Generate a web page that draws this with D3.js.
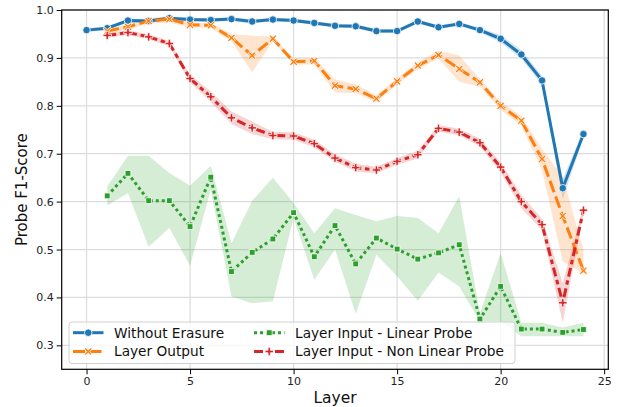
<!DOCTYPE html>
<html>
<head>
<meta charset="utf-8">
<script src="https://cdn.jsdelivr.net/npm/d3@7"></script>
<style>
  body { margin: 0; background: #fff; }
  svg { display: block; font-family: "DejaVu Sans", sans-serif; }
</style>
</head>
<body>
<svg id="chart" width="617" height="407"></svg>
<script>
// layers
const layersFull = [0, 1, 2, 3, 4, 5, 6, 7, 8, 9, 10, 11, 12, 13, 14, 15, 16, 17, 18, 19, 20, 21, 22, 23, 24];
const layersProbe = [1, 2, 3, 4, 5, 6, 7, 8, 9, 10, 11, 12, 13, 14, 15, 16, 17, 18, 19, 20, 21, 22, 23, 24];

// Without Erasure
const baseMean = [0.958, 0.962, 0.978, 0.977, 0.983, 0.980, 0.979, 0.981, 0.976, 0.980, 0.978, 0.973, 0.967, 0.966, 0.956, 0.956, 0.976, 0.964, 0.971, 0.958, 0.940, 0.907, 0.853, 0.628, 0.741];
const baseLo   = [0.954, 0.958, 0.974, 0.973, 0.979, 0.976, 0.975, 0.977, 0.972, 0.976, 0.974, 0.969, 0.963, 0.962, 0.952, 0.952, 0.972, 0.960, 0.967, 0.953, 0.932, 0.898, 0.843, 0.605, 0.733];
const baseHi   = [0.962, 0.966, 0.982, 0.981, 0.987, 0.984, 0.983, 0.985, 0.980, 0.984, 0.982, 0.977, 0.971, 0.970, 0.960, 0.960, 0.980, 0.968, 0.975, 0.963, 0.948, 0.916, 0.863, 0.648, 0.749];

// Layer Output
const outMean = [0.956, 0.965, 0.977, 0.981, 0.969, 0.968, 0.942, 0.905, 0.940, 0.892, 0.894, 0.842, 0.835, 0.815, 0.851, 0.884, 0.906, 0.877, 0.849, 0.800, 0.769, 0.689, 0.570, 0.456];
const outLo   = [0.951, 0.960, 0.972, 0.974, 0.964, 0.963, 0.934, 0.870, 0.935, 0.886, 0.886, 0.828, 0.826, 0.808, 0.844, 0.877, 0.898, 0.850, 0.840, 0.792, 0.759, 0.665, 0.475, 0.450];
const outHi   = [0.961, 0.970, 0.982, 0.988, 0.974, 0.973, 0.950, 0.946, 0.945, 0.898, 0.900, 0.855, 0.845, 0.822, 0.858, 0.891, 0.915, 0.905, 0.856, 0.808, 0.779, 0.710, 0.652, 0.500];

// Layer Input - Linear Probe
const linMean = [0.612, 0.659, 0.602, 0.602, 0.548, 0.651, 0.454, 0.494, 0.522, 0.577, 0.485, 0.550, 0.470, 0.524, 0.501, 0.480, 0.493, 0.510, 0.355, 0.423, 0.334, 0.334, 0.327, 0.333];
const linLo   = [0.592, 0.618, 0.506, 0.545, 0.466, 0.625, 0.402, 0.388, 0.392, 0.566, 0.437, 0.500, 0.366, 0.489, 0.444, 0.393, 0.452, 0.423, 0.350, 0.350, 0.319, 0.319, 0.319, 0.319];
const linHi   = [0.632, 0.696, 0.696, 0.660, 0.633, 0.675, 0.513, 0.602, 0.650, 0.597, 0.534, 0.586, 0.572, 0.559, 0.570, 0.566, 0.534, 0.611, 0.367, 0.493, 0.347, 0.347, 0.337, 0.347];

// Layer Input - Non Linear Probe
const mlpMean = [0.947, 0.953, 0.944, 0.930, 0.857, 0.819, 0.775, 0.754, 0.738, 0.737, 0.721, 0.691, 0.671, 0.666, 0.684, 0.698, 0.753, 0.745, 0.723, 0.672, 0.600, 0.552, 0.389, 0.582];
const mlpLo   = [0.942, 0.948, 0.939, 0.924, 0.849, 0.808, 0.762, 0.741, 0.730, 0.729, 0.713, 0.683, 0.663, 0.659, 0.677, 0.690, 0.746, 0.738, 0.715, 0.662, 0.586, 0.540, 0.347, 0.574];
const mlpHi   = [0.952, 0.958, 0.949, 0.936, 0.865, 0.830, 0.788, 0.767, 0.746, 0.745, 0.729, 0.699, 0.679, 0.673, 0.691, 0.706, 0.760, 0.752, 0.731, 0.682, 0.614, 0.564, 0.430, 0.590];

const xTicks = [0, 5, 10, 15, 20, 25];
const yTicks = [0.3, 0.4, 0.5, 0.6, 0.7, 0.8, 0.9, 1.0];

const series = [
  { name: "Without Erasure", color: "#1f77b4", dash: null, marker: "circle", xs: layersFull, mean: baseMean, lo: baseLo, hi: baseHi },
  { name: "Layer Output", color: "#ff7f0e", dash: "12,4.5", marker: "x", xs: layersProbe, mean: outMean, lo: outLo, hi: outHi },
  { name: "Layer Input - Linear Probe", color: "#2ca02c", dash: "3,3", marker: "square", xs: layersProbe, mean: linMean, lo: linLo, hi: linHi },
  { name: "Layer Input - Non Linear Probe", color: "#d62728", dash: "9,3.75,4.5,3.75", marker: "plus", xs: layersProbe, mean: mlpMean, lo: mlpLo, hi: mlpHi }
];

const plotLeft = 61.7, plotRight = 608.3, plotTop = 10, plotBottom = 369.3;

const svg = d3.select("#chart");

const x = d3.scaleLinear().domain([-1.2, 25.2]).range([plotLeft, plotRight]);
const y = d3.scaleLinear().domain([0.25, 1.0]).range([plotBottom, plotTop]);

// grid
svg.append("g")
  .selectAll("line")
  .data(xTicks)
  .enter()
  .append("line")
  .attr("x1", d => x(d)).attr("x2", d => x(d))
  .attr("y1", plotTop).attr("y2", plotBottom)
  .attr("stroke", "#dcdcdc")
  .attr("stroke-width", 1.2);

svg.append("g")
  .selectAll("line")
  .data(yTicks)
  .enter()
  .append("line")
  .attr("x1", plotLeft).attr("x2", plotRight)
  .attr("y1", d => y(d)).attr("y2", d => y(d))
  .attr("stroke", "#dcdcdc")
  .attr("stroke-width", 1.2);

// bands first, all under the lines
const area = d3.area()
  .x(d => x(d.x))
  .y0(d => y(d.lo))
  .y1(d => y(d.hi));

const line = d3.line()
  .x(d => x(d.x))
  .y(d => y(d.v));

series.forEach(s => {
  s.points = s.xs.map((l, i) => ({ x: l, v: s.mean[i], lo: s.lo[i], hi: s.hi[i] }));
});

svg.append("g")
  .selectAll("path")
  .data(series)
  .enter()
  .append("path")
  .attr("d", s => area(s.points))
  .attr("fill", s => s.color)
  .attr("fill-opacity", 0.2)
  .attr("stroke", "none");

// x marker and plus marker as polygons
const xShape = (() => {
  const r = 3.8, w = 1.15;
  const pts = [[0, -w * 1.41], [r - w, -r], [r, -r + w], [w * 1.41, 0], [r, r - w], [r - w, r], [0, w * 1.41], [-r + w, r], [-r, r - w], [-w * 1.41, 0], [-r, -r + w], [-r + w, -r]];
  return "M" + pts.map(p => p.join(",")).join("L") + "Z";
})();
const plusShape = (() => {
  const r = 4.2, w = 1.2;
  return `M${-w},${-r}H${w}V${-w}H${r}V${w}H${w}V${r}H${-w}V${w}H${-r}V${-w}H${-w}Z`;
})();

function shapeFor(kind) {
  if (kind === "circle") return d3.symbol(d3.symbolCircle, 44)();
  if (kind === "square") return "M-2.9,-2.9H2.9V2.9H-2.9Z";
  if (kind === "x") return xShape;
  return plusShape;
}

series.forEach(s => {
  const g = svg.append("g");
  g.append("path")
    .attr("d", line(s.points))
    .attr("fill", "none")
    .attr("stroke", s.color)
    .attr("stroke-width", 3)
    .attr("stroke-dasharray", s.dash)
    .attr("stroke-linejoin", "round");

  g.selectAll(".mk")
    .data(s.points)
    .enter()
    .append("path")
    .attr("class", "mk")
    .attr("transform", d => `translate(${x(d.x)},${y(d.v)})`)
    .attr("d", shapeFor(s.marker))
    .attr("fill", s.color)
    .attr("stroke", "#fff")
    .attr("stroke-width", 0.8);
});

// axes
const xAxis = d3.axisBottom(x)
  .tickValues(xTicks)
  .tickSize(5)
  .tickPadding(3);

svg.append("g")
  .attr("transform", `translate(0,${plotBottom})`)
  .call(xAxis)
  .call(g => g.select(".domain").remove())
  .call(g => g.selectAll(".tick line").attr("stroke", "#000").attr("stroke-width", 1))
  .call(g => g.selectAll("text")
    .attr("fill", "#222")
    .style("font-family", "DejaVu Sans")
    .style("font-size", "11px"));

const yAxis = d3.axisLeft(y)
  .tickValues(yTicks)
  .tickFormat(d3.format(".1f"))
  .tickSize(5)
  .tickPadding(3);

svg.append("g")
  .attr("transform", `translate(${plotLeft},0)`)
  .call(yAxis)
  .call(g => g.select(".domain").remove())
  .call(g => g.selectAll(".tick line").attr("stroke", "#000").attr("stroke-width", 1))
  .call(g => g.selectAll("text")
    .attr("fill", "#222")
    .style("font-family", "DejaVu Sans")
    .style("font-size", "11px"));

// frame
svg.append("rect")
  .attr("x", plotLeft).attr("y", plotTop)
  .attr("width", plotRight - plotLeft).attr("height", plotBottom - plotTop)
  .attr("fill", "none")
  .attr("stroke", "#000")
  .attr("stroke-width", 1.2);

// axis labels
svg.append("text")
  .attr("x", (plotLeft + plotRight) / 2)
  .attr("y", 403)
  .attr("text-anchor", "middle")
  .attr("fill", "#111")
  .style("font-size", "15.5px")
  .text("Layer");

svg.append("text")
  .attr("transform", `translate(27,${(plotTop + plotBottom) / 2}) rotate(-90)`)
  .attr("text-anchor", "middle")
  .attr("fill", "#111")
  .style("font-size", "15px")
  .text("Probe F1-Score");

// legend
const legend = svg.append("g");
legend.append("rect")
  .attr("x", 69).attr("y", 322)
  .attr("width", 446).attr("height", 41.5)
  .attr("rx", 3)
  .attr("fill", "#fff")
  .attr("fill-opacity", 0.8)
  .attr("stroke", "#d0d0d0")
  .attr("stroke-width", 1);

const legendPos = [[73, 332.7], [73, 351.5], [254, 332.7], [254, 351.5]];

series.forEach((s, i) => {
  const [lx, ly] = legendPos[i];
  const g = legend.append("g").attr("transform", `translate(${lx},${ly})`);
  g.append("line")
    .attr("x1", 0).attr("x2", 30.5)
    .attr("y1", 0).attr("y2", 0)
    .attr("stroke", s.color)
    .attr("stroke-width", 3)
    .attr("stroke-dasharray", s.dash);
  g.append("path")
    .attr("transform", "translate(15.25,0)")
    .attr("d", shapeFor(s.marker))
    .attr("fill", s.color)
    .attr("stroke", "#fff")
    .attr("stroke-width", 0.8);
  g.append("text")
    .attr("x", 41)
    .attr("y", 0)
    .attr("dy", "0.36em")
    .attr("fill", "#111")
    .style("font-size", "13.7px")
    .text(s.name);
});
</script>
</body>
</html>
